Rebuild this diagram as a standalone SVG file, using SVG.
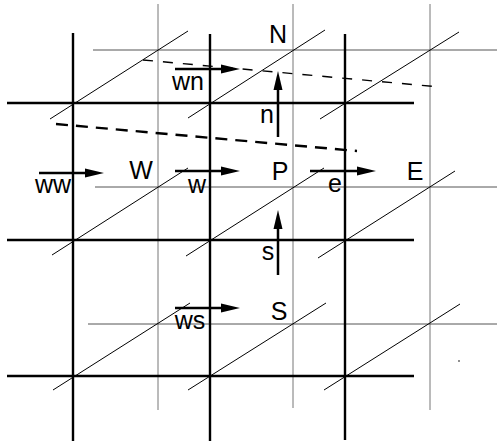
<svg xmlns="http://www.w3.org/2000/svg" width="497" height="441" viewBox="0 0 497 441">
<style>
.thick{stroke:#000;stroke-width:2.4;fill:none}
.thinv{stroke:#777;stroke-width:1;fill:none}
.thinh{stroke:#555;stroke-width:1;fill:none}
.diag{stroke:#000;stroke-width:1;fill:none}
.dash1{stroke:#000;stroke-width:1.4;stroke-dasharray:10 10;fill:none}
.dash2{stroke:#000;stroke-width:2.4;stroke-dasharray:12 8;fill:none}
.arr{stroke:#000;stroke-width:2.5;fill:none}
.head{fill:#000}
text{font-family:"Liberation Sans",Arial,sans-serif;font-size:25px;fill:#000;text-anchor:middle}
.cap{font-size:25px}
</style>
<rect width="497" height="441" fill="#fff"/>
<g id="grid">
<line class="thinv" x1="158" y1="4" x2="158" y2="410"/>
<line class="thinv" x1="293" y1="4" x2="293" y2="408"/>
<line class="thinv" x1="430" y1="4" x2="430" y2="410"/>
<line class="thinh" x1="93" y1="50" x2="497" y2="50"/>
<line class="thinh" x1="95" y1="187" x2="497" y2="187"/>
<line class="thinh" x1="88" y1="324" x2="497" y2="324"/>
<line class="thick" x1="73" y1="33" x2="73" y2="441"/>
<line class="thick" x1="210" y1="34" x2="210" y2="441"/>
<line class="thick" x1="345" y1="34" x2="345" y2="440"/>
<line class="thick" x1="7" y1="103" x2="414" y2="103"/>
<line class="thick" x1="7" y1="240" x2="414" y2="240"/>
<line class="thick" x1="7" y1="376" x2="414" y2="376"/>
<line class="diag" x1="50" y1="119" x2="188" y2="31"/>
<line class="diag" x1="188" y1="118" x2="325" y2="30"/>
<line class="diag" x1="320" y1="119" x2="459" y2="32"/>
<line class="diag" x1="52" y1="255" x2="188" y2="168"/>
<line class="diag" x1="186" y1="256" x2="324" y2="168"/>
<line class="diag" x1="318" y1="258" x2="455" y2="171"/>
<line class="diag" x1="53" y1="390" x2="190" y2="303"/>
<line class="diag" x1="188" y1="390" x2="326" y2="303"/>
<line class="diag" x1="324" y1="390" x2="460" y2="304"/>
<line class="dash1" x1="143" y1="60" x2="440" y2="87"/>
<line class="dash2" x1="56" y1="124" x2="357" y2="151"/>
<circle cx="459" cy="361" r="0.8" fill="#000"/>
</g>
<g id="nodes">
<g id="N"><text class="cap" x="278" y="43">N</text></g>
<g id="W"><text class="cap" x="141" y="179">W</text></g>
<g id="P"><text class="cap" x="280" y="180">P</text></g>
<g id="E"><text class="cap" x="415" y="180">E</text></g>
<g id="S"><text class="cap" x="279" y="320">S</text></g>
</g>
<g id="connectors">
<line class="arr" x1="175" y1="69" x2="222" y2="69"/><polygon class="head" points="240,69 221,64.5 221,73.5"/>
<line class="arr" x1="39" y1="173" x2="86" y2="173"/><polygon class="head" points="104,173 85,168.5 85,177.5"/>
<line class="arr" x1="175" y1="171" x2="222" y2="171"/><polygon class="head" points="240,171 221,166.5 221,175.5"/>
<line class="arr" x1="310" y1="171" x2="358" y2="171"/><polygon class="head" points="376,171 357,166.5 357,175.5"/>
<line class="arr" x1="175" y1="308" x2="222" y2="308"/><polygon class="head" points="240,308 221,303.5 221,312.5"/>
<line class="arr" x1="278" y1="137" x2="278" y2="88"/><polygon class="head" points="278,71 273.5,90 282.5,90"/>
<line class="arr" x1="278" y1="275" x2="278" y2="227"/><polygon class="head" points="278,210 273.5,229 282.5,229"/>
</g>
<g id="labels">
<text x="188" y="90">wn</text>
<text x="267" y="123">n</text>
<text x="53" y="193">ww</text>
<text x="197" y="193">w</text>
<text x="335" y="192">e</text>
<text x="268" y="260">s</text>
<text x="190" y="329">ws</text>
</g>
</svg>
